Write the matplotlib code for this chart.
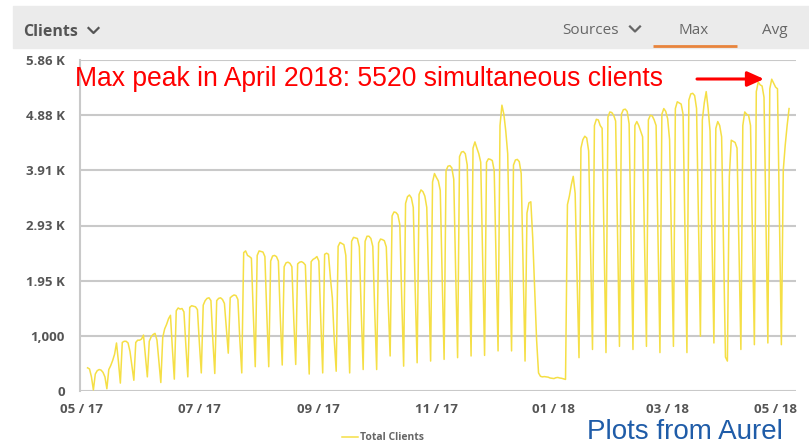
import numpy as np
import matplotlib
matplotlib.use("Agg")
import matplotlib.pyplot as plt
import matplotlib.dates as mdates
from matplotlib.lines import Line2D
from matplotlib.patches import Rectangle, FancyArrowPatch

# ---------------- data (daily maximum of simultaneous clients) ----------------
start_date = "2017-05-04"
clients = [
    410, 390, 250, 20,
    300, 360, 380, 370, 330, 250, 40,
    380, 450, 540, 650, 850, 520, 140,
    860, 880, 880, 850, 700, 450, 190,
    860, 900, 900, 920, 990, 620, 250,
    880, 960, 1000, 1020, 900, 520, 150,
    950, 1100, 1180, 1280, 1340, 750, 210,
    1420, 1470, 1450, 1460, 1400, 800, 250,
    1480, 1510, 1500, 1490, 1440, 850, 320,
    1520, 1600, 1640, 1650, 1600, 900, 310,
    1600, 1640, 1650, 1620, 1550, 1100, 670,
    1650, 1680, 1700, 1690, 1620, 900, 320,
    2450, 2480, 2400, 2380, 2350, 1350, 430,
    2400, 2480, 2470, 2460, 2380, 1350, 430,
    2300, 2390, 2400, 2380, 2300, 1300, 460,
    2200, 2270, 2280, 2260, 2200, 1250, 470,
    2250, 2280, 2290, 2270, 2230, 1200, 300,
    2290, 2330, 2350, 2380, 2300, 1250, 320,
    2420, 2440, 2420, 2000, 1650, 900, 350,
    2560, 2630, 2610, 2590, 2400, 1300, 320,
    2650, 2720, 2710, 2700, 2550, 1400, 380,
    2650, 2740, 2740, 2700, 2560, 1400, 380,
    2620, 2690, 2680, 2660, 2550, 1550, 620,
    3100, 3170, 3160, 3120, 2950, 1650, 440,
    3320, 3440, 3470, 3420, 3250, 1800, 500,
    3480, 3560, 3530, 3450, 3250, 1850, 530,
    3700, 3850, 3780, 3720, 3550, 2000, 560,
    3900, 3980, 3990, 3950, 3750, 2100, 590,
    4150, 4230, 4240, 4200, 4000, 2250, 620,
    4300, 4410, 4300, 4200, 4050, 2300, 630,
    4050, 4110, 4100, 4080, 3900, 2250, 710,
    4700, 5060, 4900, 4600, 4200, 2400, 710,
    4000, 4090, 4100, 4060, 3850, 2150, 530,
    3150, 3330, 3350, 2700, 1800, 900, 320,
    260, 250, 255, 250, 245, 230, 225,
    220, 235, 240, 230, 225, 215, 205,
    3300, 3450, 3650, 3800, 3500, 2000, 590,
    4300, 4450, 4510, 4480, 4250, 2450, 735,
    4700, 4810, 4800, 4700, 4650, 2650, 680,
    4850, 4940, 4930, 4880, 4780, 2750, 790,
    4900, 4980, 4990, 4950, 4730, 2700, 735,
    4700, 4770, 4700, 4600, 4500, 2600, 790,
    4800, 4880, 4870, 4800, 4700, 2650, 680,
    4900, 5000, 4950, 4820, 4450, 2600, 790,
    5000, 5120, 5100, 5080, 4900, 2750, 680,
    5150, 5260, 5270, 5230, 5000, 3000, 970,
    4800, 5100, 5300, 5000, 4600, 2700, 850,
    4650, 4770, 4700, 4500, 2500, 600, 530,
    3800, 4440, 4420, 4400, 4300, 2500, 735,
    4700, 4940, 4900, 4880, 4700, 2750, 820,
    5300, 5470, 5420, 5400, 5200, 3000, 850,
    5350, 5520, 5450, 5380, 5350, 3100, 820,
    3910, 4350, 4700, 5000,
]
series_name = "Total Clients"

x_range = ["2017-05-01", "2018-05-07"]
x_tick_dates = ["2017-05-01", "2017-07-01", "2017-09-01", "2017-11-01",
                "2018-01-01", "2018-03-01", "2018-05-01"]
x_tick_labels = ["05 / 17", "07 / 17", "09 / 17", "11 / 17",
                 "01 / 18", "03 / 18", "05 / 18"]
y_max = 5860
y_ticks = [0, 976.67, 1953.33, 2930, 3906.67, 4883.33, 5860]
y_tick_labels = ["0", "1,000", "1.95 K", "2.93 K", "3.91 K", "4.88 K", "5.86 K"]

header_left = "Clients"
header_tabs = ["Sources", "Max", "Avg"]
annotation_text = "Max peak in April 2018: 5520 simultaneous clients"
footer_text = "Plots from Aurel"

# ---------------- figure ----------------
W, H = 809, 446
fig = plt.figure(figsize=(W / 100, H / 100), dpi=100)
fig.patch.set_facecolor("white")


def fx(px):
    return px / W


def fy(py):
    return 1 - py / H


BOLD = dict(family=["Open Sans", "DejaVu Sans"], weight="bold")
GRID = "#c9c9c9"
TXT = "#555555"

ax = fig.add_axes([fx(80), fy(391), (796 - 80) / W, (391 - 60) / H])
dates = np.datetime64(start_date) + np.arange(len(clients))
line, = ax.plot(dates, clients, color="#f5df45", lw=1.1, label=series_name,
                zorder=3, solid_joinstyle="round")

d0 = mdates.date2num(np.datetime64(x_range[0]))
ax.set_xlim(d0 - 0.94, mdates.date2num(np.datetime64(x_range[1])) - 0.4)
ax.set_ylim(0, y_max)

ax.set_yticks(y_ticks, y_tick_labels)
ax.tick_params(axis="y", length=0, pad=11, labelsize=9.5, labelcolor=TXT)
for lbl in ax.get_yticklabels():
    lbl.set_fontfamily(BOLD["family"])
    lbl.set_fontweight("bold")
ax.grid(axis="y", color=GRID, lw=1.5, zorder=1)
ax.set_xticks([])
for s in ["top", "right", "bottom"]:
    ax.spines[s].set_visible(False)
ax.spines["left"].set_color(GRID)
ax.spines["left"].set_linewidth(1.5)

# x tick labels placed at their dates
for i, (d, lab) in enumerate(zip(x_tick_dates, x_tick_labels)):
    dx = -7.2 if i == len(x_tick_labels) - 1 else 0
    ax.annotate(lab, xy=(mdates.date2num(np.datetime64(d)), 0),
                xycoords=("data", "axes fraction"),
                xytext=(dx, -13), textcoords="offset points",
                ha="center", va="center", fontsize=9.5, color=TXT, **BOLD)

# ---------------- header bar ----------------
fig.add_artist(Rectangle((fx(13), fy(48)), fx(809 - 13), 42 / H,
                         transform=fig.transFigure, color="#ebebeb", zorder=0))
fig.text(fx(23), fy(36.5), header_left, fontsize=11.5, color=TXT,
         va="baseline", ha="left", **BOLD)
fig.add_artist(Line2D([fx(88.5), fx(93.5), fx(98.5)], [fy(28), fy(33), fy(28)],
                      transform=fig.transFigure, color=TXT, lw=1.6))
tab_x = [562, 679, 762]
for tx, lab in zip(tab_x, header_tabs):
    fig.text(fx(tx), fy(34), lab, fontsize=11, color="#666666",
             va="baseline", ha="left", family=["Open Sans", "DejaVu Sans"])
fig.add_artist(Line2D([fx(630), fx(635), fx(640)], [fy(26.5), fy(31.5), fy(26.5)],
                      transform=fig.transFigure, color="#666666", lw=1.6))
fig.add_artist(Line2D([fx(653), fx(737)], [fy(45.5), fy(45.5)],
                      transform=fig.transFigure, color="#e8843c", lw=2.0,
                      solid_capstyle="butt"))

# ---------------- annotation ----------------
fig.text(fx(75), fy(86), annotation_text, fontsize=19.1, color="#ff0000",
         va="baseline", ha="left", family=["Liberation Sans", "DejaVu Sans"])
fig.add_artist(FancyArrowPatch((fx(697), fy(79)), (fx(764), fy(79)),
                               transform=fig.transFigure,
                               arrowstyle="-|>,head_length=10,head_width=4.5",
                               mutation_scale=1, color="#ff0000", lw=2.2,
                               shrinkA=0, shrinkB=0))

# ---------------- legend ----------------
fig.legend(handles=[line], labels=[series_name], loc="center",
           bbox_to_anchor=(fx(383), fy(438)), frameon=False,
           handlelength=1.5, handletextpad=0.2, labelcolor="#666666",
           prop=dict(family=["Open Sans", "DejaVu Sans"], weight="bold", size=7.5))

# ---------------- footer (kept fully inside the canvas) ----------------
fig.text(fx(587), fy(445), footer_text, fontsize=20.0, color="#1f5ca8",
         va="bottom", ha="left", family=["Liberation Sans", "DejaVu Sans"])

fig.savefig("out.png", dpi=100)
